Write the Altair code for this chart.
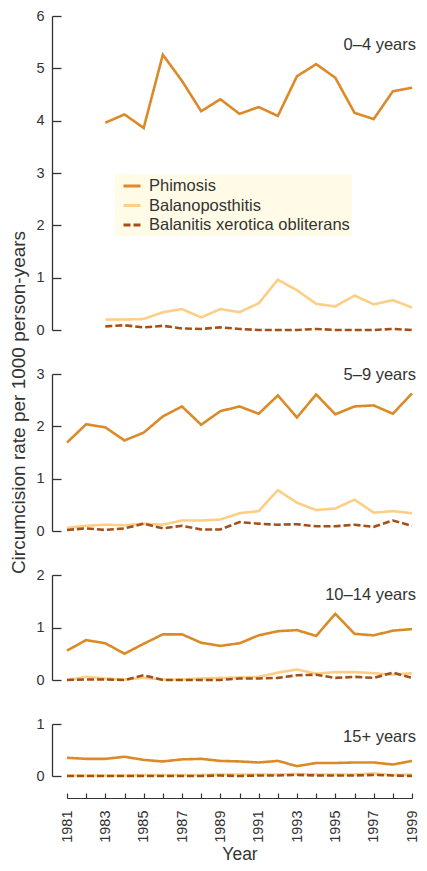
import altair as alt
import pandas as pd

years = list(range(1981, 2000))
series_names = ["Phimosis", "Balanoposthitis", "Balanitis xerotica obliterans"]
series_colors = ["#DB8A27", "#FDCE86", "#A4501B"]
series_dash = [[1, 0], [1, 0], [7, 3]]
panel_labels = ["0\u20134 years", "5\u20139 years", "10\u201314 years", "15+ years"]
y_max = [6, 3, 2, 1]
odd_years = list(range(1981, 2000, 2))

phim_0_4 = [None, None, 3.96, 4.12, 3.86, 5.26, 4.76, 4.18, 4.41, 4.13, 4.26, 4.09, 4.85, 5.08, 4.82, 4.15, 4.03, 4.56, 4.63]
bal_0_4 = [None, None, 0.20, 0.20, 0.21, 0.34, 0.40, 0.24, 0.40, 0.34, 0.51, 0.96, 0.76, 0.50, 0.45, 0.66, 0.49, 0.57, 0.43]
bxo_0_4 = [None, None, 0.07, 0.09, 0.05, 0.08, 0.03, 0.02, 0.05, 0.02, 0.0, 0.0, 0.0, 0.02, 0.0, 0.0, 0.0, 0.02, 0.0]

phim_5_9 = [1.69, 2.04, 1.98, 1.73, 1.88, 2.19, 2.38, 2.03, 2.29, 2.38, 2.24, 2.59, 2.17, 2.61, 2.23, 2.38, 2.40, 2.24, 2.63]
bal_5_9 = [0.06, 0.10, 0.12, 0.11, 0.14, 0.12, 0.20, 0.20, 0.22, 0.34, 0.38, 0.78, 0.54, 0.40, 0.43, 0.60, 0.35, 0.38, 0.34]
bxo_5_9 = [0.02, 0.05, 0.02, 0.05, 0.14, 0.05, 0.10, 0.03, 0.03, 0.17, 0.14, 0.12, 0.13, 0.09, 0.09, 0.12, 0.08, 0.20, 0.10]

phim_10_14 = [0.56, 0.76, 0.70, 0.50, 0.69, 0.87, 0.87, 0.71, 0.65, 0.70, 0.85, 0.93, 0.95, 0.84, 1.26, 0.88, 0.85, 0.94, 0.97]
bal_10_14 = [0.0, 0.06, 0.03, 0.01, 0.04, 0.01, 0.01, 0.03, 0.04, 0.05, 0.06, 0.14, 0.20, 0.12, 0.15, 0.15, 0.13, 0.10, 0.13]
bxo_10_14 = [0.0, 0.01, 0.01, 0.0, 0.09, 0.0, 0.0, 0.0, 0.0, 0.03, 0.03, 0.04, 0.09, 0.10, 0.04, 0.06, 0.04, 0.14, 0.04]

phim_15 = [0.35, 0.33, 0.33, 0.37, 0.31, 0.28, 0.32, 0.33, 0.29, 0.28, 0.26, 0.29, 0.19, 0.25, 0.25, 0.26, 0.26, 0.22, 0.29]
bal_15 = [0.01, 0.01, 0.01, 0.01, 0.02, 0.02, 0.02, 0.02, 0.03, 0.03, 0.03, 0.03, 0.04, 0.03, 0.03, 0.03, 0.05, 0.02, 0.03]
bxo_15 = [0.0, 0.0, 0.0, 0.0, 0.0, 0.0, 0.0, 0.0, 0.01, 0.0, 0.01, 0.01, 0.02, 0.01, 0.01, 0.01, 0.02, 0.01, 0.0]

panels_data = [
    (phim_0_4, bal_0_4, bxo_0_4),
    (phim_5_9, bal_5_9, bxo_5_9),
    (phim_10_14, bal_10_14, bxo_10_14),
    (phim_15, bal_15, bxo_15),
]

W = 345
UNIT = 52.3
label_y = [29, 1, 20, 13]
FONT = "Liberation Sans"
TXT = "#333333"


def make_df(vals):
    rows = []
    for name, arr in zip(series_names, vals):
        for yr, v in zip(years, arr):
            rows.append({"year": yr, "value": v, "series": name})
    return pd.DataFrame(rows)


def panel(i):
    df = make_df(panels_data[i])
    h = round(UNIT * y_max[i])
    last = i == 3
    xscale = alt.Scale(domain=[1981, 1999], nice=False, zero=False)
    yscale = alt.Scale(domain=[0, y_max[i]], nice=False)
    yvals = list(range(y_max[i] + 1))

    if last:
        x_main = alt.X("year:Q", scale=xscale, axis=alt.Axis(
            orient="bottom", offset=22, domain=False, ticks=False, values=odd_years,
            format="d", labelAngle=270, labelPadding=12, labelFontSize=14.5,
            title="Year", titleFontSize=17.5, titlePadding=3, grid=False))
        x_tick = alt.X("year:Q", scale=xscale, axis=alt.Axis(
            orient="top", offset=-(h + 22), values=years, labels=False, tickSize=5,
            tickWidth=1.2, domainWidth=1.2, title=None, grid=False))
    else:
        x_main = alt.X("year:Q", scale=xscale, axis=None)
        x_tick = alt.X("year:Q", scale=xscale, axis=None)

    common = dict(orient="left", offset=15, values=yvals, format=".0f", domain=False, ticks=False,
                  labelPadding=8, grid=False, labelOverlap=False, labelBound=False)
    if i == 1:
        y_left_axis = alt.Axis(title="Circumcision rate per 1000 person-years",
                               titleX=-24, titleY=28, titleAngle=270, titleAlign="center",
                               titleBaseline="bottom", titleFontSize=19, **common)
    else:
        y_left_axis = alt.Axis(title=None, **common)

    if i == 0:
        leg = alt.Legend(orient="none", legendX=48, legendY=158, title=None,
                         fillColor="#FFFBE6", padding=2, symbolOffset=5, symbolType="stroke",
                         symbolSize=289, symbolStrokeWidth=3, labelFontSize=16.5,
                         labelFont=FONT, labelColor=TXT, rowPadding=0.5, labelOffset=7,
                         labelLimit=0)
        color = alt.Color("series:N", scale=alt.Scale(domain=series_names, range=series_colors), legend=leg)
        dash = alt.StrokeDash("series:N", scale=alt.Scale(domain=series_names, range=series_dash), legend=leg)
    else:
        color = alt.Color("series:N", scale=alt.Scale(domain=series_names, range=series_colors), legend=None)
        dash = alt.StrokeDash("series:N", scale=alt.Scale(domain=series_names, range=series_dash), legend=None)

    lines = alt.Chart(df).mark_line(strokeWidth=2.6).encode(
        x=x_main,
        y=alt.Y("value:Q", scale=yscale, axis=y_left_axis),
        color=color,
        strokeDash=dash,
        order=alt.Order("year:Q"),
    )
    axis_layer = alt.Chart(df).mark_line(strokeOpacity=0).encode(
        x=x_tick,
        y=alt.Y("value:Q", scale=yscale, axis=alt.Axis(
            orient="right", offset=-(W + 15), values=yvals, labels=False, tickSize=9,
            tickWidth=1.3, domainWidth=1.3, grid=False, title=None)),
        detail="series:N",
    )
    lab = alt.Chart(pd.DataFrame({"label": [panel_labels[i]]})).mark_text(
        align="right", baseline="middle", font=FONT, fontSize=16.5, color=TXT
    ).encode(x=alt.value(W + 4), y=alt.value(label_y[i]), text="label:N")

    return alt.layer(lines, axis_layer, lab).resolve_axis(x="independent", y="independent").properties(
        width=W, height=h)


chart = alt.vconcat(panel(0), panel(1), panel(2), panel(3), spacing=44, bounds="flush").resolve_scale(
    color="independent", strokeDash="independent"
).properties(
    padding={"left": 0, "top": 0, "right": -1, "bottom": 0}
).configure_axis(
    labelFont=FONT, titleFont=FONT, labelColor=TXT, titleColor=TXT, domainColor=TXT,
    tickColor=TXT, labelFontSize=14.5, titleFontWeight="normal"
).configure_view(stroke=None)

chart.save("out.html", embed_options={"renderer": "svg", "actions": False})
